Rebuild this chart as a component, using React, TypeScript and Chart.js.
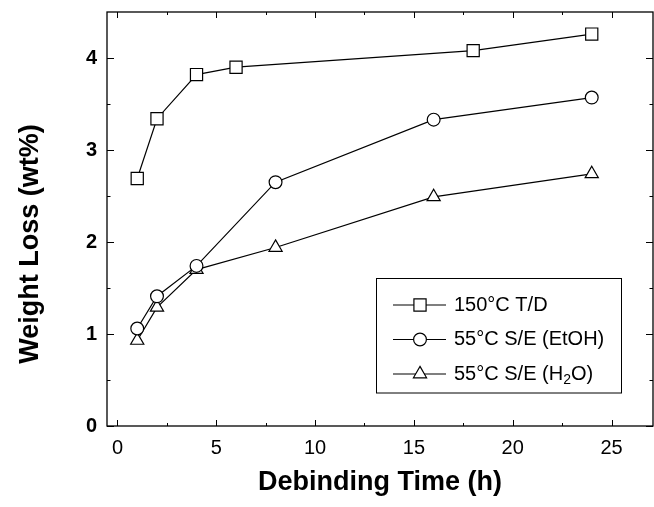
import React, { useEffect, useRef } from 'react';
import { Chart, registerables } from 'chart.js';

Chart.register(...registerables);

// ---- data ----
const timeTD = [1, 2, 4, 6, 18, 24];
const lossTD = [2.69, 3.34, 3.82, 3.9, 4.08, 4.26];
const timeEtOH = [1, 2, 4, 8, 16, 24];
const lossEtOH = [1.06, 1.41, 1.74, 2.65, 3.33, 3.57];
const timeH2O = [1, 2, 4, 8, 16, 24];
const lossH2O = [0.93, 1.29, 1.7, 1.94, 2.49, 2.74];
const seriesLabels = ['150°C T/D', '55°C S/E (EtOH)', '55°C S/E (H₂O)'];
const xMajorTicks = [0, 5, 10, 15, 20, 25];
const xMinorTicks = [2.5, 7.5, 12.5, 17.5, 22.5];
const yMajorTicks = [0, 1, 2, 3, 4];
const yMinorTicks = [0.5, 1.5, 2.5, 3.5];
const xTitle = 'Debinding Time (h)';
const yTitle = 'Weight Loss (wt%)';

const FONT = '"Liberation Sans", Arial, Helvetica, sans-serif';

function drawMarker(ctx: CanvasRenderingContext2D, style: string, x: number, y: number, r: number) {
  ctx.beginPath();
  if (style === 'rect') {
    const s = r * Math.SQRT1_2;
    ctx.rect(x - s, y - s, 2 * s, 2 * s);
  } else if (style === 'circle') {
    ctx.arc(x, y, r, 0, Math.PI * 2);
  } else {
    let rad = 0;
    const step = (Math.PI * 2) / 3;
    ctx.moveTo(x + Math.sin(rad) * r, y - Math.cos(rad) * r);
    rad += step;
    ctx.lineTo(x + Math.sin(rad) * r, y - Math.cos(rad) * r);
    rad += step;
    ctx.lineTo(x + Math.sin(rad) * r, y - Math.cos(rad) * r);
    ctx.closePath();
  }
  ctx.fillStyle = '#fff';
  ctx.fill();
  ctx.stroke();
}

const framePlugin = {
  id: 'frameTicks',
  afterDraw(chart: any) {
    const { ctx, chartArea: ca, scales } = chart;
    const xs = scales.x;
    const ys = scales.y;
    ctx.save();
    ctx.strokeStyle = '#000';
    ctx.lineWidth = 1.3;
    ctx.strokeRect(ca.left, ca.top, ca.right - ca.left, ca.bottom - ca.top);
    ctx.lineWidth = 1;
    const tick = (vals: number[], len: number) => {
      vals.forEach((v) => {
        const px = Math.round(xs.getPixelForValue(v)) + 0.5;
        ctx.beginPath();
        ctx.moveTo(px, ca.bottom);
        ctx.lineTo(px, ca.bottom - len);
        ctx.moveTo(px, ca.top);
        ctx.lineTo(px, ca.top + len);
        ctx.stroke();
      });
    };
    const tickY = (vals: number[], len: number) => {
      vals.forEach((v) => {
        const py = Math.round(ys.getPixelForValue(v)) + 0.5;
        ctx.beginPath();
        ctx.moveTo(ca.left, py);
        ctx.lineTo(ca.left + len, py);
        ctx.moveTo(ca.right, py);
        ctx.lineTo(ca.right - len, py);
        ctx.stroke();
      });
    };
    tick(xMajorTicks, 6);
    tick(xMinorTicks, 3);
    tickY(yMajorTicks, 7);
    tickY(yMinorTicks, 3.5);

    // y title
    ctx.fillStyle = '#000';
    ctx.font = `bold 27px ${FONT}`;
    ctx.textAlign = 'center';
    ctx.textBaseline = 'middle';
    ctx.translate(31, 244);
    ctx.rotate(-Math.PI / 2);
    ctx.fillText(yTitle, 0, 0);
    ctx.restore();
  },
};

const legendPlugin = {
  id: 'insetLegend',
  afterDraw(chart: any) {
    const { ctx } = chart;
    const box = { left: 376, top: 278, right: 621, bottom: 392.5 };
    const rows = [305, 339.5, 374];
    ctx.save();
    ctx.strokeStyle = '#000';
    ctx.lineWidth = 1;
    ctx.strokeRect(box.left + 0.5, box.top + 0.5, box.right - box.left, box.bottom - box.top);
    chart.data.datasets.forEach((ds: any, i: number) => {
      const y = rows[i];
      ctx.lineWidth = 1.2;
      ctx.beginPath();
      ctx.moveTo(393, y);
      ctx.lineTo(446, y);
      ctx.stroke();
      drawMarker(ctx, ds.pointStyle, 420, y, ds.pointRadius);
      ctx.fillStyle = '#000';
      ctx.textBaseline = 'middle';
      ctx.textAlign = 'left';
      let x = 454;
      const parts = String(ds.label).split('₂');
      parts.forEach((p: string, k: number) => {
        ctx.font = `20px ${FONT}`;
        ctx.fillText(p, x, y);
        x += ctx.measureText(p).width;
        if (k < parts.length - 1) {
          ctx.font = `14px ${FONT}`;
          ctx.fillText('2', x, y + 6);
          x += ctx.measureText('2').width;
        }
      });
    });
    ctx.restore();
  },
};

const zeroPad = (s: any) => {
  s.paddingTop = 0;
  s.paddingBottom = 0;
  s.paddingLeft = 0;
  s.paddingRight = 0;
};

export default function App() {
  const ref = useRef<HTMLCanvasElement | null>(null);
  useEffect(() => {
    if (!ref.current) return;
    const mk = (xs: number[], ys: number[]) => xs.map((x, i) => ({ x, y: ys[i] }));
    const common = {
      borderColor: '#000',
      borderWidth: 1.2,
      pointBackgroundColor: '#fff',
      pointBorderColor: '#000',
      pointBorderWidth: 1.2,
      fill: false,
      tension: 0,
    };
    const chart = new Chart(ref.current, {
      type: 'line',
      data: {
        datasets: [
          { ...common, label: seriesLabels[0], data: mk(timeTD, lossTD), pointStyle: 'rect', pointRadius: 8.6 },
          { ...common, label: seriesLabels[1], data: mk(timeEtOH, lossEtOH), pointStyle: 'circle', pointRadius: 6.4 },
          { ...common, label: seriesLabels[2], data: mk(timeH2O, lossH2O), pointStyle: 'triangle', pointRadius: 7.6 },
        ],
      },
      options: {
        animation: false,
        responsive: false,
        maintainAspectRatio: false,
        devicePixelRatio: 1,
        layout: { autoPadding: false, padding: { left: 0, right: 1, top: 12, bottom: 0 } },
        plugins: { legend: { display: false }, tooltip: { enabled: false } },
        scales: {
          x: {
            type: 'linear',
            min: -0.53,
            max: 27.1,
            afterBuildTicks: (s: any) => {
              s.ticks = xMajorTicks.map((v) => ({ value: v }));
            },
            afterFit: (s: any) => {
              s.height = 81;
              zeroPad(s);
            },
            grid: { display: false, drawTicks: false, tickLength: 0 },
            border: { display: false },
            ticks: {
              color: '#000',
              font: { family: FONT, size: 20 },
              padding: 10,
              maxRotation: 0,
              autoSkip: false,
            },
            title: {
              display: true,
              text: xTitle,
              color: '#000',
              font: { family: FONT, size: 27, weight: 'bold' },
              padding: { top: 0, bottom: 8 },
            },
          },
          y: {
            type: 'linear',
            min: 0,
            max: 4.5,
            afterBuildTicks: (s: any) => {
              s.ticks = yMajorTicks.map((v) => ({ value: v }));
            },
            afterFit: (s: any) => {
              s.width = 107;
              zeroPad(s);
            },
            grid: { display: false, drawTicks: false, tickLength: 0 },
            border: { display: false },
            ticks: {
              color: '#000',
              font: { family: FONT, size: 20, weight: 'bold' },
              padding: 10,
              autoSkip: false,
            },
          },
        },
      },
      plugins: [framePlugin, legendPlugin],
    } as any);
    return () => chart.destroy();
  }, []);
  return (
    <div style={{ position: 'absolute', left: 0, top: 0, width: 654, height: 507, background: '#fff' }}>
      <canvas ref={ref} width={654} height={507} style={{ display: 'block', width: 654, height: 507 }} />
    </div>
  );
}
